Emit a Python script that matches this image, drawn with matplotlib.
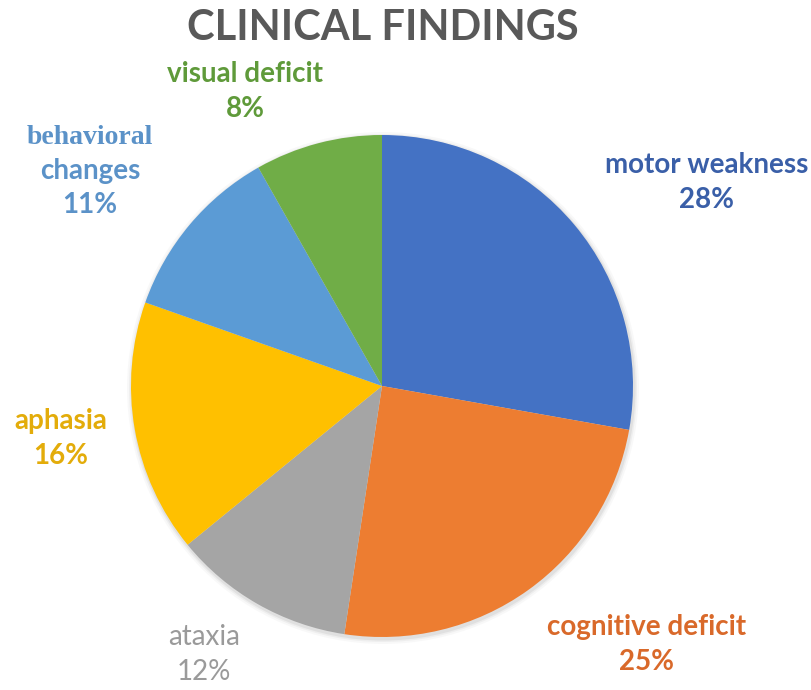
import matplotlib
matplotlib.use('Agg')
import matplotlib.pyplot as plt
from matplotlib.patches import Circle

labels = ['motor weakness', 'cognitive deficit', 'ataxia', 'aphasia', 'behavioral\nchanges', 'visual deficit']
# slice sizes, shown percentages from the labels
values = [27.8, 24.6, 11.7, 16.3, 11.4, 8.2]
pct_labels = [28, 25, 12, 16, 11, 8]
colors = ['#4472C4', '#ED7D31', '#A5A5A5', '#FFC000', '#5B9BD5', '#70AD47']
text_colors = ['#3A5FA8', '#D9692A', '#9A9A9A', '#E3AC0A', '#5B92C8', '#5F9A3A']

W, H = 812, 690
fig = plt.figure(figsize=(W / 100, H / 100), dpi=100)
ax = fig.add_axes([0, 0, 1, 1])
ax.set_xlim(0, W)
ax.set_ylim(0, H)
ax.set_aspect('equal')
ax.axis('off')

cx, cy, r = 382, H - 386, 251
# soft shadow under the pie
for k, a in [(5, 0.05), (3, 0.08), (1.5, 0.12)]:
    ax.add_patch(Circle((cx + 1, cy - 2), r + k, color='#808080', alpha=a, lw=0, zorder=0))

ax.pie(values, colors=colors, startangle=90, counterclock=False,
       center=(cx, cy), radius=r,
       wedgeprops=dict(edgecolor='none', linewidth=0, zorder=2))

ax.set_xlim(0, W)
ax.set_ylim(0, H)

fig.text(383 / W, 1 - 28 / H, 'CLINICAL FINDINGS', ha='center', va='center',
         fontsize=30, fontweight='bold', color='#595959', family='Lato')

# label positions (pixel centres of the first line)
lab_pos = [(707, 165), (647, 627), (204, 637), (61, 421), (90, 138), (245, 74)]
fs = 20
for i, (lab, p) in enumerate(zip(labels, pct_labels)):
    x, y = lab_pos[i]
    weight = 'normal' if lab == 'ataxia' else 'bold'
    if lab.startswith('behavioral'):
        ax.text(x, H - y, 'behavioral', ha='center', va='center', fontsize=fs,
                fontweight='bold', color=text_colors[i], family='Liberation Serif')
        ax.text(x, H - y - 33, 'changes', ha='center', va='center', fontsize=fs,
                fontweight='bold', color=text_colors[i], family='Lato')
        ax.text(x, H - y - 67, '{}%'.format(p), ha='center', va='center', fontsize=fs,
                fontweight='bold', color=text_colors[i], family='Lato')
    else:
        ax.text(x, H - y, lab, ha='center', va='center', fontsize=fs,
                fontweight=weight, color=text_colors[i], family='Lato')
        ax.text(x, H - y - 35, '{}%'.format(p), ha='center', va='center', fontsize=fs,
                fontweight=weight, color=text_colors[i], family='Lato')

fig.savefig('out.png', dpi=100)
